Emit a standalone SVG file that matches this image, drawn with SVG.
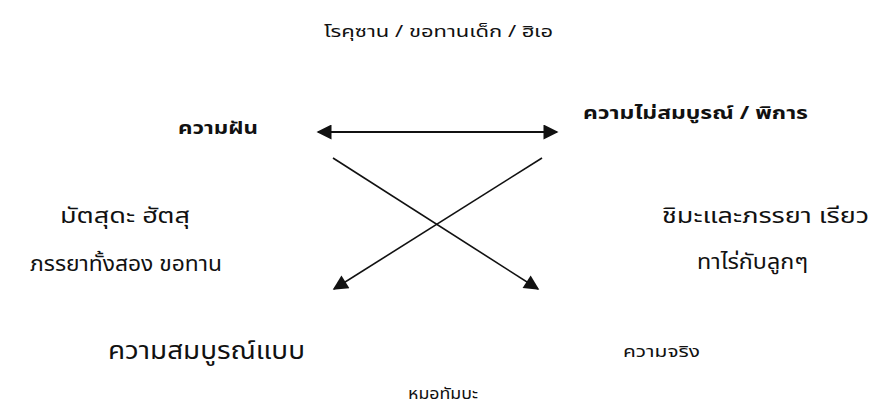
<svg xmlns="http://www.w3.org/2000/svg" width="872" height="405" viewBox="0 0 872 405">
<style>
text{font-family:"Noto Sans Thai","Tahoma","DejaVu Sans","Liberation Sans",sans-serif;fill:#111}
.b{font-weight:bold}
line{stroke:#111;stroke-width:1.6}
.h{stroke-width:2.2}
</style>
<defs>
<marker id="ah2" viewBox="0 0 10 10" refX="9" refY="5" markerWidth="16" markerHeight="15" markerUnits="userSpaceOnUse" orient="auto-start-reverse">
<path d="M0,0 L10,5 L0,10 z" fill="#111"/>
</marker>
</defs>
<rect width="872" height="405" fill="#fff"/>
<g id="top"><text x="324" y="37" font-size="16" textLength="229" lengthAdjust="spacingAndGlyphs">โรคุซาน / ขอทานเด็ก / ฮิเอ</text></g>
<g id="dream"><text class="b" x="178" y="134" font-size="17" textLength="80" lengthAdjust="spacingAndGlyphs">ความฝัน</text></g>
<g id="imperfect"><text class="b" x="583" y="119" font-size="18" textLength="225" lengthAdjust="spacingAndGlyphs">ความไม่สมบูรณ์ / พิการ</text></g>
<g id="matsuda"><text x="60" y="223" font-size="21" textLength="130" lengthAdjust="spacingAndGlyphs">มัตสุดะ ฮัตสุ</text><text x="30" y="271" font-size="21" textLength="192" lengthAdjust="spacingAndGlyphs">ภรรยาทั้งสอง ขอทาน</text></g>
<g id="shima"><text x="662" y="223" font-size="21" textLength="207" lengthAdjust="spacingAndGlyphs">ชิมะและภรรยา เรียว</text><text x="697" y="269" font-size="21" textLength="111" lengthAdjust="spacingAndGlyphs">ทาไร่กับลูกๆ</text></g>
<g id="perfect"><text x="108" y="359" font-size="24" textLength="197" lengthAdjust="spacingAndGlyphs">ความสมบูรณ์แบบ</text></g>
<g id="truth"><text x="623" y="357" font-size="15" textLength="77" lengthAdjust="spacingAndGlyphs">ความจริง</text></g>
<g id="tamba"><text x="408" y="399" font-size="16" textLength="70" lengthAdjust="spacingAndGlyphs">หมอทัมบะ</text></g>
<g id="connectors">
<line class="h" x1="318" y1="132" x2="557" y2="132" marker-start="url(#ah2)" marker-end="url(#ah2)"/>
<line x1="333" y1="158" x2="538" y2="289" marker-end="url(#ah2)"/>
<line x1="542" y1="158" x2="334" y2="289" marker-end="url(#ah2)"/>
</g>
</svg>
